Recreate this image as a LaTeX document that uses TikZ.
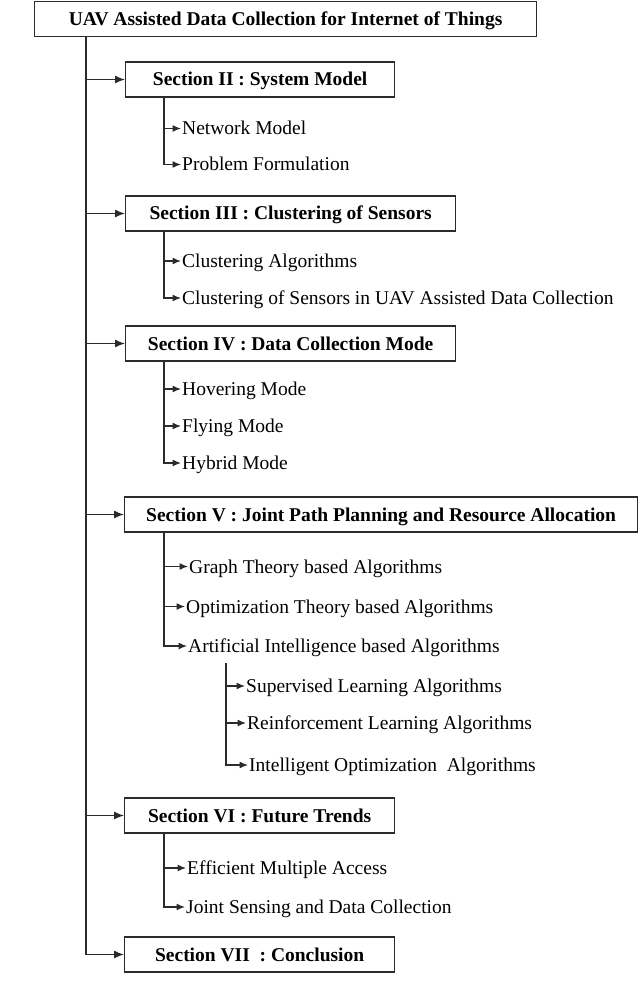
\documentclass[tikz,border=0pt]{standalone}
\usepackage{fontspec}
\setmainfont{Liberation Serif}
\usepackage{xcolor}
\usepackage{tikz}
\usetikzlibrary{arrows.meta,positioning,calc}
\definecolor{linegray}{HTML}{2B2B2B}

\begin{document}
\begin{tikzpicture}[x=1pt,y=-1pt,font=\fontsize{19.5}{23}\selectfont]
	\tikzstyle{section}=[draw=linegray, line width=1.3pt, font=\fontsize{19.5}{23}\selectfont\bfseries, minimum height=35pt, inner sep=0pt, text height=16pt, text depth=3pt, anchor=west]
	\tikzstyle{item}=[anchor=west, inner sep=1pt, text height=16pt, text depth=3pt]
	\tikzstyle{main}=[draw=linegray, line width=1.3pt, -{Latex[length=10pt,width=8pt]}]
	\tikzstyle{sub}=[draw=linegray, line width=1.2pt, -{Latex[length=8.5pt,width=7pt]}]
	\useasboundingbox (0,0) rectangle (640,1008);
	
	\node[section, minimum width=502pt](top) at (34,19){UAV Assisted Data Collection for Internet of Things};
	\node[section, minimum width=269pt](s2) at (125,79.5){Section II : System Model};
	\node[section, minimum width=330pt](s3) at (125,213.5){Section III : Clustering of Sensors};
	\node[section, minimum width=330pt](s4) at (125,343.5){Section IV : Data Collection Mode};
	\node[section, minimum width=513pt](s5) at (124,514.5){Section V : Joint Path Planning and Resource Allocation};
	\node[section, minimum width=270pt](s6) at (124,815.5){Section VI : Future Trends};
	\node[section, minimum width=270pt](s7) at (124,954.5){Section VII\ \ : Conclusion};
	
	\node[item](nm) at (181,128.5){Network Model};
	\node[item](pf) at (181,164.5){Problem Formulation};
	\node[item](ca) at (181,261){Clustering Algorithms};
	\node[item](cs) at (181,298){Clustering of Sensors in UAV Assisted Data Collection};
	\node[item](hm) at (181,389){Hovering Mode};
	\node[item](fm) at (181,426){Flying Mode};
	\node[item](hy) at (181,463){Hybrid Mode};
	\node[item](gt) at (188,566.5){Graph Theory based Algorithms};
	\node[item](ot) at (185,606.5){Optimization Theory based Algorithms};
	\node[item](ai) at (187,646){Artificial Intelligence based Algorithms};
	\node[item](sl) at (245,686){Supervised Learning Algorithms};
	\node[item](rl) at (246,723){Reinforcement Learning Algorithms};
	\node[item](io) at (248,765){Intelligent Optimization\ \ Algorithms};
	\node[item](em) at (186,868){Efficient Multiple Access};
	\node[item](js) at (185,907){Joint Sensing and Data Collection};
	
	\coordinate (trunk) at (86,0);
	\coordinate (branch) at (164,0);
	\coordinate (aibranch) at (226,663);
	
	\draw[main] (top.south -| trunk) |- (s2.west);
	\draw[main] (top.south -| trunk) |- (s3.west);
	\draw[main] (top.south -| trunk) |- (s4.west);
	\draw[main] (top.south -| trunk) |- (s5.west);
	\draw[main] (top.south -| trunk) |- (s6.west);
	\draw[main] (top.south -| trunk) |- (s7.west);
	
	\draw[sub] (s2.south -| branch) |- (nm.west);
	\draw[sub] (s2.south -| branch) |- (pf.west);
	\draw[sub] (s3.south -| branch) |- (ca.west);
	\draw[sub] (s3.south -| branch) |- (cs.west);
	\draw[sub] (s4.south -| branch) |- (hm.west);
	\draw[sub] (s4.south -| branch) |- (fm.west);
	\draw[sub] (s4.south -| branch) |- (hy.west);
	\draw[sub] (s5.south -| branch) |- (gt.west);
	\draw[sub] (s5.south -| branch) |- (ot.west);
	\draw[sub] (s5.south -| branch) |- (ai.west);
	\draw[sub] (aibranch) |- (sl.west);
	\draw[sub] (aibranch) |- (rl.west);
	\draw[sub] (aibranch) |- (io.west);
	\draw[sub] (s6.south -| branch) |- (em.west);
	\draw[sub] (s6.south -| branch) |- (js.west);
\end{tikzpicture}
\end{document}
